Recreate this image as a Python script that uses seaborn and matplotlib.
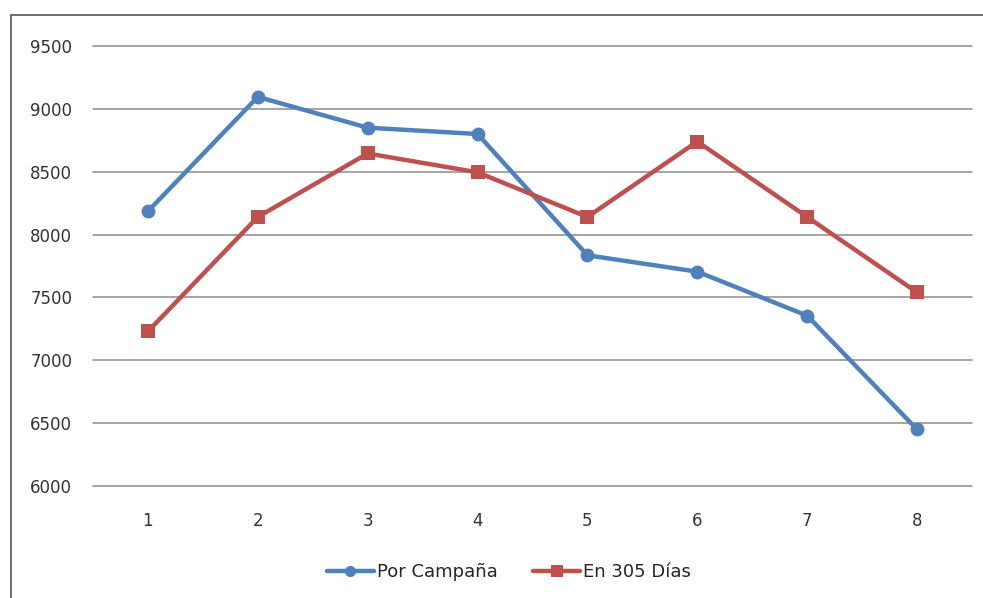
import numpy as np
import matplotlib
matplotlib.use("Agg")
import matplotlib.pyplot as plt
import seaborn as sns
import pandas as pd
from matplotlib.patches import Rectangle

# values
lactancias = [1, 2, 3, 4, 5, 6, 7, 8]
por_campana = [8185, 9095, 8850, 8800, 7835, 7705, 7355, 6450]
en_305_dias = [7230, 8140, 8645, 8495, 8140, 8740, 8140, 7540]
series_names = ["Por Campaña", "En 305 Días"]
y_ticks = [6000, 6500, 7000, 7500, 8000, 8500, 9000, 9500]

df = pd.DataFrame({
    "x": lactancias * 2,
    "y": por_campana + en_305_dias,
    "serie": [series_names[0]] * len(lactancias) + [series_names[1]] * len(lactancias),
})

sns.set_style("white")
plt.rcParams["font.family"] = ["DejaVu Sans"]

fig = plt.figure(figsize=(9.83, 5.98), dpi=100)
ax = fig.add_axes([0.0946, 0.1873, 0.8942, 0.7358])

palette = {series_names[0]: "#4F81BD", series_names[1]: "#C0504D"}
sns.lineplot(data=df, x="x", y="y", hue="serie", style="serie",
             markers={series_names[0]: "o", series_names[1]: "s"},
             dashes=False, palette=palette, linewidth=3.2, markersize=10,
             markeredgewidth=0, ax=ax, legend=True)

ax.set_xlim(0.5, 8.5)
ax.set_ylim(6000, 9500)
ax.set_xticks(lactancias)
ax.set_yticks(y_ticks)
ax.yaxis.grid(True, color="#8c8c8c", linewidth=1.1)
for gl in ax.get_ygridlines():
    gl.set_clip_on(False)
ax.set_axisbelow(True)
for s in ax.spines.values():
    s.set_visible(False)
ax.tick_params(axis="both", length=0, labelsize=12, colors="#333333")
ax.tick_params(axis="y", pad=15)
ax.tick_params(axis="x", pad=19)
ax.set_xlabel("")
ax.set_ylabel("")

handles, labels = ax.get_legend_handles_labels()
ax.legend(handles, labels, loc="center", bbox_to_anchor=(509 / 983, 1 - 572 / 598),
          bbox_transform=fig.transFigure, ncol=2, frameon=False,
          fontsize=13, handlelength=2.6, handletextpad=0.15, columnspacing=2.0,
          markerscale=0.8)

# outer chart border (partially cropped in the reference)
fig.patches.append(Rectangle((11 / 983, -0.01), 1.0, 1 - 15 / 598 + 0.01,
                             transform=fig.transFigure, fill=False,
                             edgecolor="#555555", linewidth=1.2))

fig.savefig("out.png", dpi=100)
